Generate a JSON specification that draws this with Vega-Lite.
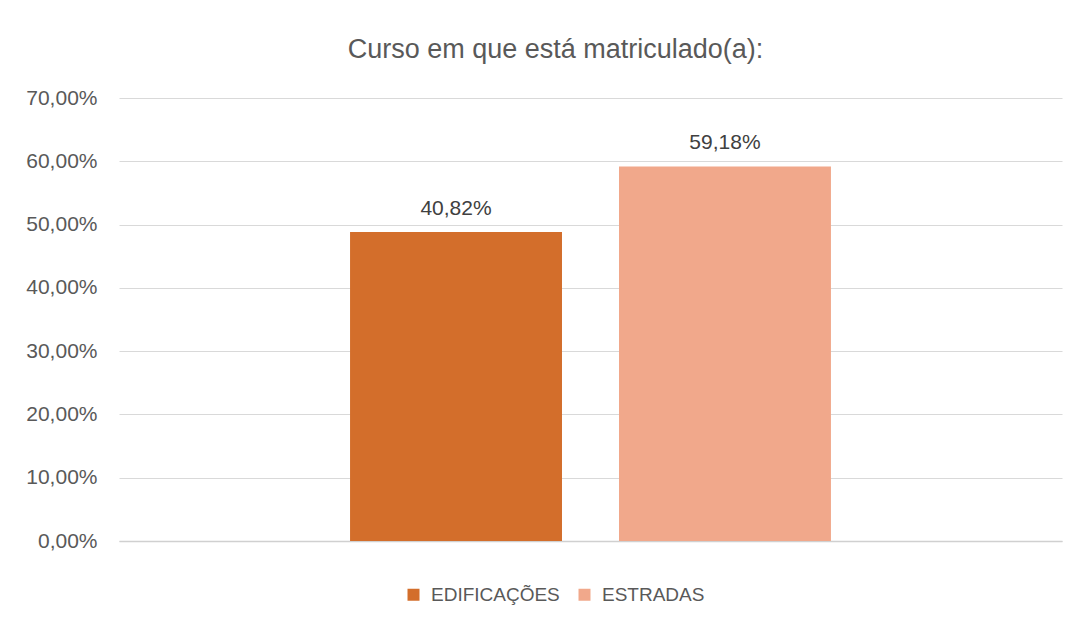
{
  "$schema": "https://vega.github.io/schema/vega-lite/v6.json",
  "width": 943,
  "height": 443,
  "autosize": "none",
  "padding": {"left": 119, "top": 98, "right": 19, "bottom": 85},
  "background": "white",
  "config": {
    "locale": {"number": {"decimal": ",", "thousands": ".", "grouping": [3], "currency": ["R$", ""]}},
    "view": {"stroke": null},
    "font": "Liberation Sans"
  },
  "title": {
    "text": "Curso em que está matriculado(a):",
    "fontSize": 27,
    "fontWeight": "normal",
    "color": "#595959",
    "anchor": "middle",
    "dx": -35,
    "offset": 23
  },
  "data": {
    "values": [
      {"curso": "EDIFICAÇÕES", "valor": 0.4883, "rotulo": "40,82%"},
      {"curso": "ESTRADAS", "valor": 0.5918, "rotulo": "59,18%"}
    ]
  },
  "encoding": {
    "x": {
      "field": "curso",
      "type": "nominal",
      "sort": null,
      "scale": {"paddingInner": 0.212, "paddingOuter": 0.859},
      "axis": {"labels": false, "ticks": false, "title": null, "domainColor": "#d0d0d0", "domainWidth": 1.5, "grid": false}
    },
    "y": {
      "field": "valor",
      "type": "quantitative",
      "scale": {"domain": [0, 0.7]},
      "axis": {
        "format": ".2%",
        "values": [0, 0.1, 0.2, 0.3, 0.4, 0.5, 0.6, 0.7],
        "title": null,
        "ticks": false,
        "domain": false,
        "labelPadding": 22,
        "labelFontSize": 21,
        "labelColor": "#595959",
        "gridColor": "#d9d9d9",
        "gridWidth": 1
      }
    }
  },
  "layer": [
    {
      "mark": {"type": "bar"},
      "encoding": {
        "color": {
          "field": "curso",
          "type": "nominal",
          "sort": null,
          "scale": {"domain": ["EDIFICAÇÕES", "ESTRADAS"], "range": ["#D36E2B", "#F1A88B"]},
          "legend": {
            "orient": "none",
            "legendX": 285,
            "legendY": 487,
            "direction": "horizontal",
            "title": null,
            "symbolType": "square",
            "symbolSize": 144,
            "symbolStrokeWidth": 0,
            "labelFontSize": 19,
            "labelColor": "#595959",
            "labelOffset": 8,
            "columnPadding": 15
          }
        }
      }
    },
    {
      "mark": {"type": "text", "dy": -17, "baseline": "alphabetic", "fontSize": 21, "color": "#404040"},
      "encoding": {"text": {"field": "rotulo"}}
    }
  ]
}
